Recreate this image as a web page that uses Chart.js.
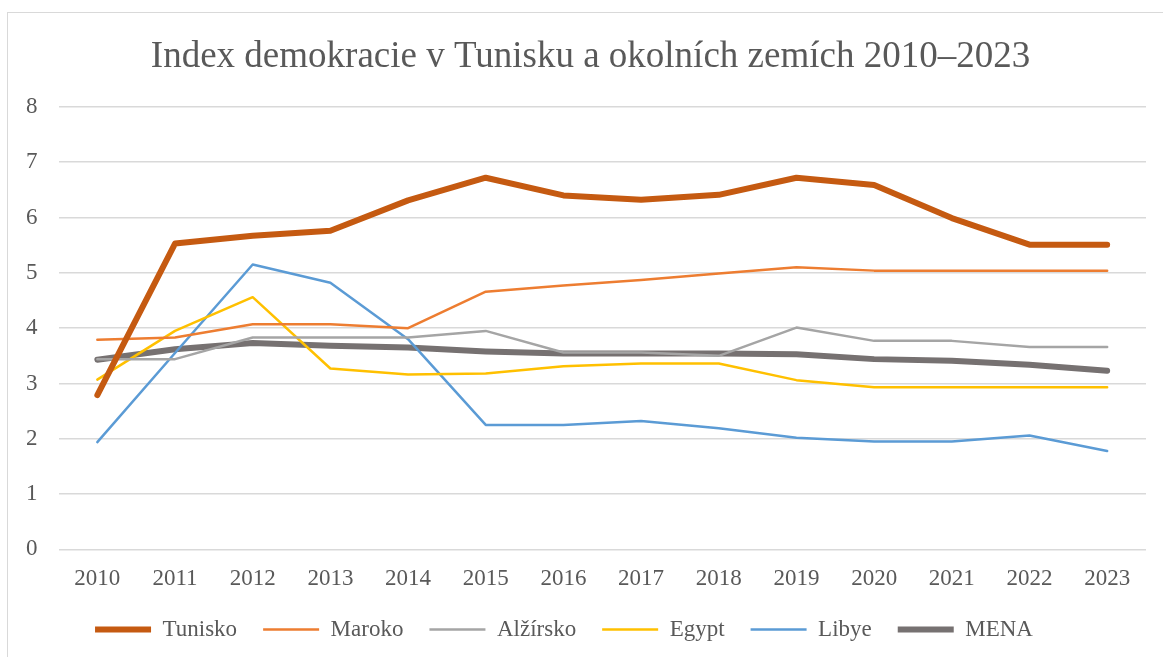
<!DOCTYPE html>
<html>
<head>
<meta charset="utf-8">
<script src="https://cdn.jsdelivr.net/npm/chart.js@4.4.1/dist/chart.umd.min.js"></script>
<style>
html,body{margin:0;padding:0;background:#fff;overflow:hidden;}
#wrap{position:relative;width:1163px;height:657px;}
#frame{position:absolute;left:7px;top:12px;width:1200px;height:700px;border-left:1.5px solid #D9D9D9;border-top:1.5px solid #D9D9D9;}
canvas{position:absolute;left:0;top:0;}
</style>
</head>
<body>
<div id="wrap"><div id="frame"></div><canvas id="c" width="1163" height="657"></canvas></div>
<script>
const years = ['2010','2011','2012','2013','2014','2015','2016','2017','2018','2019','2020','2021','2022','2023'];
const tunisko  = [2.79,5.53,5.67,5.76,6.31,6.72,6.40,6.32,6.41,6.72,6.59,5.99,5.51,5.51];
const maroko   = [3.79,3.83,4.07,4.07,4.00,4.66,4.77,4.87,4.99,5.10,5.04,5.04,5.04,5.04];
const alzirsko = [3.44,3.44,3.83,3.83,3.83,3.95,3.56,3.56,3.50,4.01,3.77,3.77,3.66,3.66];
const egypt    = [3.07,3.95,4.56,3.27,3.16,3.18,3.31,3.36,3.36,3.06,2.93,2.93,2.93,2.93];
const libye    = [1.94,3.55,5.15,4.82,3.80,2.25,2.25,2.32,2.19,2.02,1.95,1.95,2.06,1.78];
const mena     = [3.43,3.62,3.73,3.68,3.65,3.58,3.54,3.54,3.54,3.53,3.44,3.41,3.34,3.23];
const yTicks   = [0,1,2,3,4,5,6,7,8];
const titleText = 'Index demokracie v Tunisku a okolních zemích 2010–2023';

const textColor = '#595959';
const fontFam = '"Liberation Serif", "Times New Roman", serif';

function ds(label, data, color, width){
  return {label, data, borderColor: color, backgroundColor: color, borderWidth: width,
    pointRadius: 0, pointHoverRadius: 0, tension: 0, fill: false,
    borderCapStyle: 'round', borderJoinStyle: 'round'};
}

const boxShift = {
  id: 'boxShift',
  afterLayout(chart){
    const lg = chart.legend;
    if (lg){ lg.left -= 23; lg.top -= 17; lg.bottom -= 17; }
    const tb = chart.titleBlock;
    if (tb){ tb.left += 15; tb.right += 15; }
  }
};

new Chart(document.getElementById('c'), {
  type: 'line',
  data: {
    labels: years,
    datasets: [
      ds('Tunisko', tunisko, '#C55A11', 6),
      ds('Maroko', maroko, '#ED7D31', 2.5),
      ds('Alžírsko', alzirsko, '#A5A5A5', 2.5),
      ds('Egypt', egypt, '#FFC000', 2.5),
      ds('Libye', libye, '#5B9BD5', 2.5),
      ds('MENA', mena, '#767171', 6)
    ]
  },
  plugins: [boxShift],
  options: {
    responsive: false,
    animation: false,
    events: [],
    layout: {padding: {left: 5, right: 17, top: 20, bottom: -11}},
    plugins: {
      title: {display: true, text: titleText, color: textColor,
        font: {family: fontFam, size: 37, weight: 'normal'}, padding: {top: 15.5, bottom: 27}},
      legend: {display: true, position: 'bottom',
        labels: {color: textColor, font: {family: fontFam, size: 23}, usePointStyle: true,
          pointStyle: 'line', pointStyleWidth: 56, boxHeight: 23, padding: 26}},
      tooltip: {enabled: false}
    },
    scales: {
      x: {offset: true,
        grid: {display: false, drawTicks: false},
        border: {display: false},
        ticks: {color: textColor, font: {family: fontFam, size: 23}, padding: 16, maxRotation: 0}},
      y: {min: 0, max: 8, afterBuildTicks: (ax) => { ax.ticks = yTicks.map(v => ({value: v})); },
        grid: {color: '#D9D9D9', lineWidth: 1.5, drawTicks: false},
        border: {display: false},
        ticks: {color: textColor, font: {family: fontFam, size: 23}, padding: 21}}
    }
  }
});
</script>
</body>
</html>
